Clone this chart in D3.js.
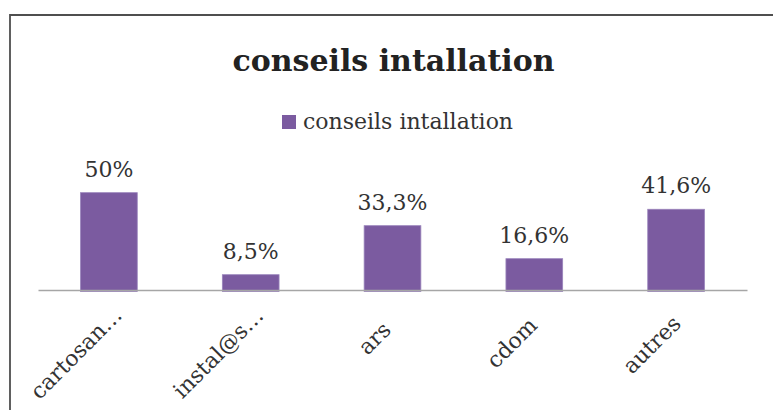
<!DOCTYPE html>
<html>
<head>
<meta charset="utf-8">
<script src="https://cdn.jsdelivr.net/npm/d3@7"></script>
<style>
  html, body { margin: 0; padding: 0; background: #fff; }
  svg { display: block; }
</style>
</head>
<body>
<script>
const categories = ["cartosan…", "instal@s…", "ars", "cdom", "autres"];
const values = [0.5, 0.085, 0.333, 0.166, 0.416];
const valueLabels = ["50%", "8,5%", "33,3%", "16,6%", "41,6%"];
const seriesName = "conseils intallation";
const chartTitle = "conseils intallation";

const W = 773, H = 410;
const svg = d3.select("body").append("svg").attr("width", W).attr("height", H);
svg.append("rect").attr("width", W).attr("height", H).attr("fill", "#fff");

// frame
svg.append("path").attr("d", `M10,${H} L10,15 L${W},15`)
  .attr("fill", "none").attr("stroke", "#4f4f4f").attr("stroke-width", 1.8);

const serif = "'DejaVu Serif', serif";
const barColor = "#7b5ba0";

// title
svg.append("text").attr("x", 393.5).attr("y", 71).attr("text-anchor", "middle")
  .attr("font-family", serif).attr("font-weight", "bold").attr("font-size", 30)
  .attr("fill", "#222").text(chartTitle);

// legend
svg.append("rect").attr("x", 282).attr("y", 115).attr("width", 14).attr("height", 14).attr("fill", barColor);
svg.append("text").attr("x", 303).attr("y", 129).attr("font-family", serif).attr("font-size", 22)
  .attr("fill", "#333").text(seriesName);

const x = d3.scaleBand().domain(categories).range([38, 747]).paddingInner(0.6).paddingOuter(0.3);
const y = d3.scaleLinear().domain([0, 0.6]).range([291.5, 291.5 - 118.6]);

svg.selectAll("rect.bar").data(values).join("rect").attr("class", "bar")
  .attr("x", (d, i) => x(categories[i]))
  .attr("width", x.bandwidth())
  .attr("y", d => y(d))
  .attr("height", d => y(0) - y(d))
  .attr("fill", barColor)
  .attr("stroke", "#9a84bb").attr("stroke-width", 0.8);

// axis line
const axisG = svg.append("g").attr("transform", "translate(0,290)");
axisG.call(d3.axisBottom(x).tickSize(0).tickFormat(""));
axisG.select(".domain").attr("stroke", "#a6a6a6").attr("stroke-width", 1.6);

// value labels
svg.selectAll("text.val").data(values).join("text").attr("class", "val")
  .attr("x", (d, i) => x(categories[i]) + x.bandwidth() / 2)
  .attr("y", d => y(d) - 16)
  .attr("text-anchor", "middle")
  .attr("font-family", serif).attr("font-size", 22).attr("fill", "#333")
  .text((d, i) => valueLabels[i]);

// category labels (rotated -45°)
svg.selectAll("text.cat").data(categories).join("text").attr("class", "cat")
  .attr("text-anchor", "end")
  .attr("font-family", serif).attr("font-size", 22).attr("fill", "#333")
  .text(d => d)
  .attr("transform", function(d) {
    const L = this.getComputedTextLength();
    const t = 0.25 * (L - 65) * Math.SQRT1_2;
    const cx = x(d) + x.bandwidth() / 2;
    return `translate(${cx + 5 + t},${326 - t}) rotate(-45)`;
  });
</script>
</body>
</html>
